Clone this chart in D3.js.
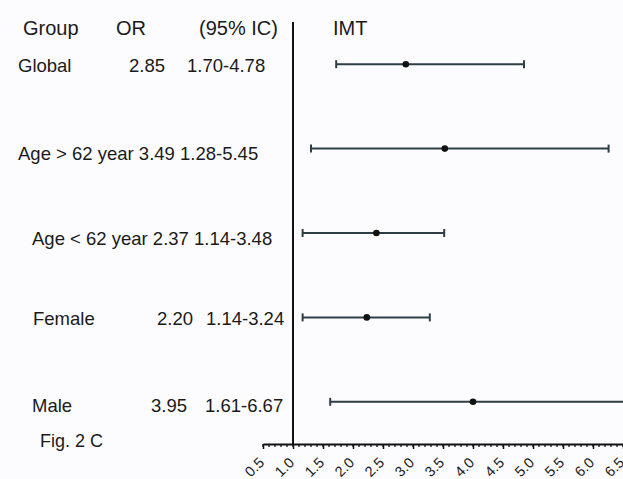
<!DOCTYPE html>
<html><head><meta charset="utf-8">
<script src="https://cdn.jsdelivr.net/npm/d3@7"></script>
<style>
body{margin:0;background:#fcfcfe;}
svg{display:block;}
text{font-family:"Liberation Sans",Arial,Helvetica,sans-serif;fill:#1a1a1a;}
</style></head>
<body><svg id="c" width="623" height="479"></svg>
<script>
// ---- data ----
const groups = ["Global", "Age > 62 year", "Age < 62 year", "Female", "Male"];
const orText = ["2.85", "3.49", "2.37", "2.20", "3.95"];
const ciText = ["1.70-4.78", "1.28-5.45", "1.14-3.48", "1.14-3.24", "1.61-6.67"];
// values as plotted in the figure
const orVals = [2.88, 3.53, 2.39, 2.23, 4.00];
const loVals = [1.72, 1.30, 1.16, 1.16, 1.62];
const hiVals = [4.85, 6.26, 3.52, 3.28, 6.67];
const headers = ["Group", "OR", "(95% IC)", "IMT"];
const tickVals = [0.5,1.0,1.5,2.0,2.5,3.0,3.5,4.0,4.5,5.0,5.5,6.0,6.5];
const caption = "Fig. 2 C";

const svg = d3.select("#c");
svg.append("rect").attr("width",623).attr("height",479).attr("fill","#fcfcfe");

const x = d3.scaleLinear().domain([0.5, 6.5]).range([263, 623]);
const y = d3.scalePoint().domain(groups).range([22, 444]).padding(0.5);
const axisY = 444;

svg.append("clipPath").attr("id","pc").append("rect")
  .attr("x", x(0.5)).attr("y", 0).attr("width", x(6.5)-x(0.5)+2).attr("height", axisY);

// headers
const hx = [23, 116, 199, 333];
svg.selectAll("text.hd").data(headers).join("text").attr("class","hd")
  .attr("x",(d,i)=>hx[i]).attr("y",35).attr("font-size",20).text(d=>d);

// row texts
const layout = [
  {gx:18, orEnd:165, ciX:187, dy:8},
  {single:true, x:18, dy:11},
  {single:true, x:32, dy:12},
  {gx:33, orEnd:193, ciX:206, dy:8},
  {gx:32, orEnd:187, ciX:205, dy:10}
];
groups.forEach((g,i)=>{
  const L = layout[i], yy = y(g) + L.dy;
  if (L.single) {
    svg.append("text").attr("x",L.x).attr("y",yy).attr("font-size",18.5)
      .text(g + " " + orText[i] + " " + ciText[i]);
  } else {
    svg.append("text").attr("x",L.gx).attr("y",yy).attr("font-size",18.5).text(g);
    svg.append("text").attr("x",L.orEnd).attr("y",yy).attr("font-size",18.5).attr("text-anchor","end").text(orText[i]);
    svg.append("text").attr("x",L.ciX).attr("y",yy).attr("font-size",18.5).text(ciText[i]);
  }
});

// error bars
const eb = svg.append("g").attr("clip-path","url(#pc)");
const col = "#2c3e46";
groups.forEach((g,i)=>{
  const yy = y(g);
  eb.append("line").attr("x1",x(loVals[i])).attr("x2",x(hiVals[i])).attr("y1",yy).attr("y2",yy)
    .attr("stroke",col).attr("stroke-width",2);
  [loVals[i], hiVals[i]].forEach(v=>{
    eb.append("line").attr("x1",x(v)).attr("x2",x(v)).attr("y1",yy-4).attr("y2",yy+4)
      .attr("stroke",col).attr("stroke-width",2);
  });
  eb.append("circle").attr("cx",x(orVals[i])).attr("cy",yy).attr("r",3.3).attr("fill","#111");
});

// vertical reference line at 1
svg.append("line").attr("x1",x(1)).attr("x2",x(1)).attr("y1",22).attr("y2",axisY)
  .attr("stroke","#111").attr("stroke-width",2);

// minor ticks
const minor = d3.range(5, 66).map(d=>d/10);
const gAx = svg.append("g").attr("transform",`translate(0,${axisY})`);
gAx.selectAll("line.mn").data(minor).join("line").attr("class","mn")
  .attr("x1",d=>x(d)).attr("x2",d=>x(d)).attr("y1",0).attr("y2",3)
  .attr("stroke","#111").attr("stroke-width",1.3);

// major axis
const ax = d3.axisBottom(x).tickValues(tickVals).tickFormat(d3.format(".1f")).tickSize(5).tickSizeOuter(0);
gAx.call(ax);
gAx.select(".domain").attr("stroke","#111").attr("stroke-width",2);
gAx.selectAll(".tick line").attr("stroke","#111").attr("stroke-width",1.5);
gAx.selectAll(".tick text")
  .attr("font-family","Liberation Sans, Arial, sans-serif")
  .attr("font-size",14.5).attr("fill","#1a1a1a")
  .attr("text-anchor","end").attr("x",0).attr("y",0).attr("dy","0.35em")
  .attr("transform","translate(-2,16) rotate(-45)");

// caption
svg.append("text").attr("x",40).attr("y",447).attr("font-size",18).text(caption);
</script></body></html>
